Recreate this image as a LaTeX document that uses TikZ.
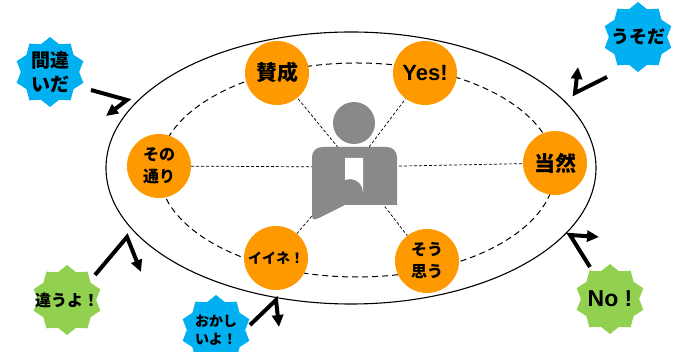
\documentclass[tikz,border=0pt]{standalone}
\usepackage{fontspec}
\setmainfont{Noto Sans CJK JP}
\newfontfamily\latin{Liberation Sans}
\usetikzlibrary{shapes.geometric,arrows.meta}
\definecolor{opinion}{HTML}{FF9900}
\definecolor{skyblue}{HTML}{00B0F0}
\definecolor{leafgreen}{HTML}{92D050}
\definecolor{persongray}{HTML}{898989}
\tikzset{
  say/.style={circle,fill=opinion,minimum size=64pt,inner sep=0pt,align=center},
  burst/.style={star,star points=10,star point ratio=1.2,minimum size=70pt,inner sep=0pt},
  spoke/.style={line width=0.7pt,dash pattern=on 3pt off 2pt},
  zap/.style={line width=4pt,miter limit=10,-{Triangle[length=12pt,width=11pt]}},
}

\begin{document}
\begin{tikzpicture}[x=1pt,y=1pt]
    \useasboundingbox (0,0) rectangle (684,352);
    % rings
    \draw [line width=1.1pt] (351,184) ellipse (245 and 136);
    \draw [line width=1pt,dash pattern=on 6pt off 4pt] (357,182) ellipse (198 and 107);
    % opinions
    \node[say,font=\bfseries\fontsize{21}{24}\selectfont] (agree) at (277,279) {賛成};
    \node[say,font=\bfseries\latin\fontsize{22}{24}\selectfont] (yes) at (425,279) {Yes!};
    \node[say,font=\bfseries\fontsize{16}{22}\selectfont] (right) at (159,186) {その\\通り};
    \node[say,font=\bfseries\fontsize{21}{24}\selectfont] (ofcourse) at (555,189) {当然};
    \node[say,font=\bfseries\fontsize{14}{18}\selectfont] (nice) at (276,94) {イイネ！};
    \node[say,font=\bfseries\fontsize{16}{22}\selectfont] (think) at (427,91) {そう\\思う};
    % spokes
    \coordinate (hub) at (354,185);
    \foreach \who in {agree,yes,right,ofcourse,nice,think}
      \draw [spoke] (hub) -- (\who);
    % person
    \fill [persongray] (354,229) circle (21);
    \fill [persongray] (312,142) -- (312,195) arc (180:90:10) -- (387,205) arc (90:0:10)
      -- (397,147) -- (345,147) -- (321,135) .. controls (312,131) .. (312,142) -- cycle;
    \fill [white] (345,194) -- (363,194) -- (363,160) arc (0:90:13) -- (345,172) -- cycle;
    % objections
    \node[burst,fill=skyblue,label={[align=center,font=\bfseries\fontsize{19}{24}\selectfont]center:間違\\いだ}] (wrong) at (50,280) {};
    \node[burst,fill=skyblue,label={[font=\bfseries\fontsize{18}{22}\selectfont]center:うそだ}] (lie) at (638,315) {};
    \node[burst,fill=leafgreen,label={[font=\bfseries\fontsize{16}{20}\selectfont]center:違うよ！}] (nope) at (67,52) {};
    \node[burst,fill=skyblue,label={[align=center,font=\bfseries\fontsize{14}{18}\selectfont]center:おかし\\いよ！}] (odd) at (216,22) {};
    \node[burst,fill=leafgreen,label={[font=\bfseries\latin\fontsize{23}{26}\selectfont]center:No !}] (no) at (610,53) {};
    % zigzags
    \coordinate (wrong0) at (91,262);  \coordinate (wrong1) at (127,252); \coordinate (wrong2) at (106,236);
    \coordinate (lie0) at (607,275);   \coordinate (lie1) at (575,259);   \coordinate (lie2) at (578,285);
    \coordinate (nope0) at (95,77);    \coordinate (nope1) at (127,115);  \coordinate (nope2) at (141,80);
    \coordinate (odd0) at (250,27);    \coordinate (odd1) at (276,52);    \coordinate (odd2) at (279,25);
    \coordinate (no0) at (590,85);     \coordinate (no1) at (570,117);    \coordinate (no2) at (599,115);
    \foreach \who in {wrong,lie,nope,odd,no}
      \draw [zap] (\who0) -- (\who1) -- (\who2);
\end{tikzpicture}
\end{document}
